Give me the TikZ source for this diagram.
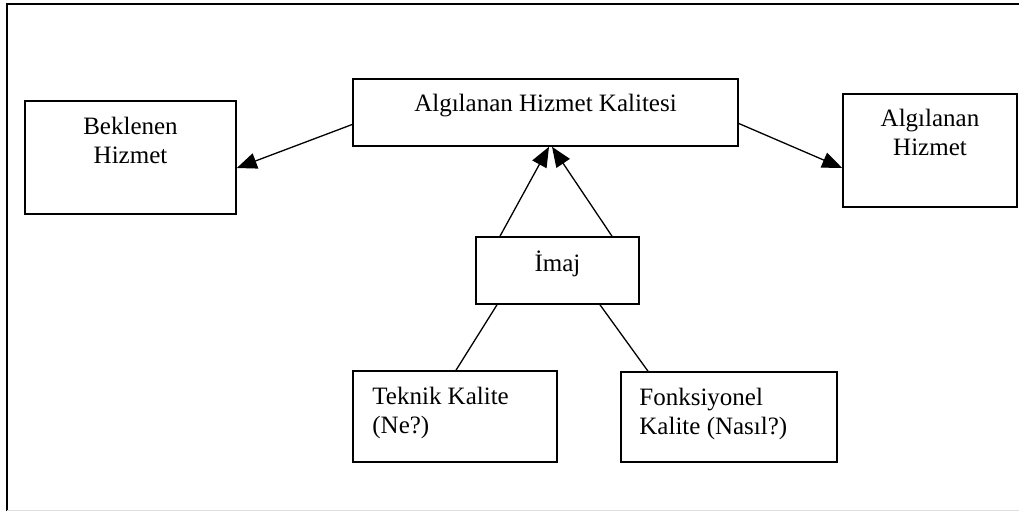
\documentclass[tikz,border=0pt]{standalone}
\usepackage{fontspec}
\setmainfont{Liberation Serif}
\usetikzlibrary{arrows.meta}

\begin{document}
\begin{tikzpicture}[x=1pt, y=-1pt,
  qbox/.style={rectangle, draw, line width=1.6pt, inner sep=0pt},
  qtext/.style={inner sep=0pt, font=\fontsize{25}{29}\selectfont},
  link/.style={line width=1.3pt},
  flow/.style={link, -{Triangle[length=20pt, width=16pt]}}]
\useasboundingbox (0, 0) rectangle (1019, 511);

\draw[line width=2pt] (7, 511) -- (7, 4) -- (1019, 4);
\draw[line width=1pt, gray!25] (7, 510) -- (1019, 510);

\node at (545.5, 112.5) [qbox, minimum width=385pt, minimum height=67pt] (quality) {};
\node at (130.5, 157.5) [qbox, minimum width=211pt, minimum height=113pt] (expected) {};
\node at (930, 150.5) [qbox, minimum width=174pt, minimum height=113pt] (perceived) {};
\node at (557.5, 270.5) [qbox, minimum width=163pt, minimum height=67pt] (image) {};
\node at (455, 416.5) [qbox, minimum width=204pt, minimum height=91pt] (technical) {};
\node at (729, 417) [qbox, minimum width=216pt, minimum height=90pt] (functional) {};

\node at ([yshift=-16pt]quality.north) [qtext, anchor=north] (qualityText) {Algılanan Hizmet Kalitesi};
\node at ([yshift=-17pt]expected.north) [qtext, anchor=north, align=center] (expectedText) {Beklenen\\Hizmet};
\node at ([yshift=-16pt]perceived.north) [qtext, anchor=north, align=center] (perceivedText) {Algılanan\\Hizmet};
\node at ([yshift=-35pt]image.north) [qtext, anchor=base] (imageText) {İmaj};
\node at ([xshift=20pt, yshift=-17pt]technical.north west) [qtext, anchor=north west, align=left] (technicalText) {Teknik Kalite\\(Ne?)};
\node at ([xshift=19pt, yshift=-17pt]functional.north west) [qtext, anchor=north west, align=left] (functionalText) {Fonksiyonel\\Kalite (Nasıl?)};

\draw[flow] ([yshift=-12pt]quality.west) -- ([yshift=-10.5pt]expected.east);
\draw[flow] ([yshift=-11pt]quality.east) -- ([yshift=-17.5pt]perceived.west);
\draw[flow] ([xshift=-57.5pt]image.north) -- ([xshift=3.5pt]quality.south);
\draw[flow] ([xshift=54.5pt]image.north) -- ([xshift=6.5pt]quality.south);
\draw[link] ([xshift=-60.5pt]image.south) -- ([xshift=1pt]technical.north);
\draw[link] ([xshift=42.5pt]image.south) -- ([xshift=-81pt]functional.north);
\end{tikzpicture}
\end{document}
